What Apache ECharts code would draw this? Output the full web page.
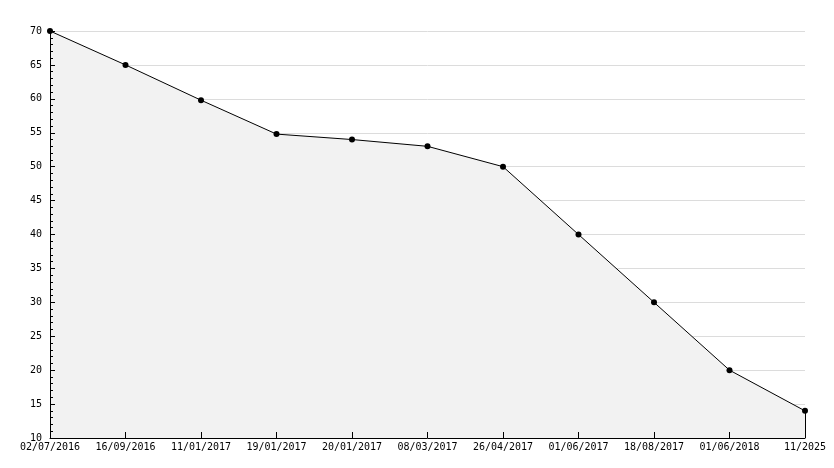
<!DOCTYPE html>
<html>
<head>
<meta charset="utf-8">
<script src="https://cdn.jsdelivr.net/npm/echarts@6/dist/echarts.min.js"></script>
<style>
  html, body { margin: 0; padding: 0; background: #fff; }
  #chart { width: 834px; height: 468px; }
</style>
</head>
<body>
<div id="chart"></div>
<script>
// dates on the x axis
var categories = ['02/07/2016', '16/09/2016', '11/01/2017', '19/01/2017', '20/01/2017',
  '08/03/2017', '26/04/2017', '01/06/2017', '18/08/2017', '01/06/2018', '11/2025'];
// values
var values = [70, 65, 59.8, 54.8, 54, 53, 50, 40, 30, 20, 14];
var yMin = 10, yMax = 70, yStep = 5;

var chart = echarts.init(document.getElementById('chart'));
var lastCat = categories[categories.length - 1];
var lastVal = values[values.length - 1];

chart.setOption({
  animation: false,
  textStyle: { fontFamily: 'DejaVu Sans Mono', fontSize: 10, color: '#000' },
  grid: { left: 50, right: 29, top: 31, bottom: 30 },
  xAxis: {
    type: 'category',
    boundaryGap: false,
    data: categories,
    z: 10,
    axisLine: { lineStyle: { color: '#000', width: 1 } },
    axisTick: { inside: true, length: 6, lineStyle: { color: '#000' } },
    axisLabel: { color: '#000', fontSize: 10, fontFamily: 'DejaVu Sans Mono', margin: 4, interval: 0 },
    splitLine: { show: false }
  },
  yAxis: [{
    // grid lines only, under the area
    type: 'value',
    min: yMin,
    max: yMax,
    interval: yStep,
    axisLine: { show: false },
    axisTick: { show: false },
    axisLabel: { show: false },
    splitLine: { show: true, lineStyle: { color: '#dcdcdc', width: 1 } }
  }, {
    // axis line, ticks and labels, above the area
    type: 'value',
    position: 'left',
    min: yMin,
    max: yMax,
    interval: yStep,
    z: 10,
    axisLine: { show: true, lineStyle: { color: '#000', width: 1 } },
    axisTick: { show: true, inside: true, length: 5, lineStyle: { color: '#000' } },
    minorTick: { show: true, splitNumber: 5, length: 3, lineStyle: { color: '#000' } },
    axisLabel: { color: '#000', fontSize: 10, fontFamily: 'DejaVu Sans Mono', margin: 8 },
    splitLine: { show: false }
  }],
  series: [{
    type: 'line',
    data: values,
    symbol: 'circle',
    symbolSize: 6,
    itemStyle: { color: '#000' },
    lineStyle: { color: '#000', width: 1 },
    areaStyle: { color: '#f2f2f2', opacity: 1, origin: 'start' },
    markLine: {
      silent: true,
      symbol: 'none',
      label: { show: false },
      lineStyle: { color: '#000', width: 1, type: 'solid' },
      data: [[{ coord: [lastCat, yMin] }, { coord: [lastCat, lastVal] }]]
    }
  }]
});
</script>
</body>
</html>
